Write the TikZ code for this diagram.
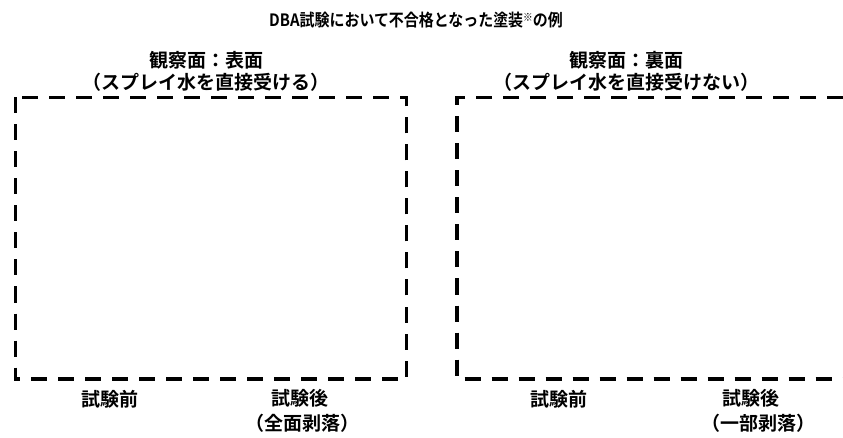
\documentclass[tikz,border=0pt]{standalone}
\usepackage{fontspec}
\setmainfont{Noto Sans CJK JP}[BoldFont={Noto Sans CJK JP Bold}]
\newfontfamily\titlefont{Noto Sans CJK JP Bold}[FakeStretch=0.88]
\begin{document}
\begin{tikzpicture}[x=1pt, y=-1pt,
	frame/.style={line width=3.5pt, dash pattern=on 16pt off 11pt},
	txt/.style={font=\bfseries\fontsize{19}{21}\selectfont, inner sep=0pt}]
\useasboundingbox (0,0) rectangle (843,438);
\clip (0,0) rectangle (843,438);
% title
\node[txt, font=\titlefont\fontsize{17}{19}\selectfont] (title) at (416,20)
	{DBA試験において不合格となった塗装{\fontsize{11}{11}\selectfont\raisebox{5pt}{※}}の例};
% frames
\draw[frame] (15.5,97.5) rectangle (406.5,379);
\draw[frame] (870,97.5) -- (457,97.5) -- (457,379) -- (870,379);
% headers
\node[txt] (lhead) at (206,60) {観察面：表面};
\node[txt] (lsub)  at (206,82) {（スプレイ水を直接受ける）};
\node[txt] (rhead) at (626,60) {観察面：裏面};
\node[txt] (rsub)  at (626,82) {（スプレイ水を直接受けない）};
% captions
\node[txt] (lbefore) at (110,399) {試験前};
\node[txt] (lafter)  at (300,398) {試験後};
\node[txt] (lnote)   at (302,423) {（全面剥落）};
\node[txt] (rbefore) at (559,399) {試験前};
\node[txt] (rafter)  at (751,398) {試験後};
\node[txt] (rnote)   at (758,423) {（一部剥落）};
\end{tikzpicture}
\end{document}
